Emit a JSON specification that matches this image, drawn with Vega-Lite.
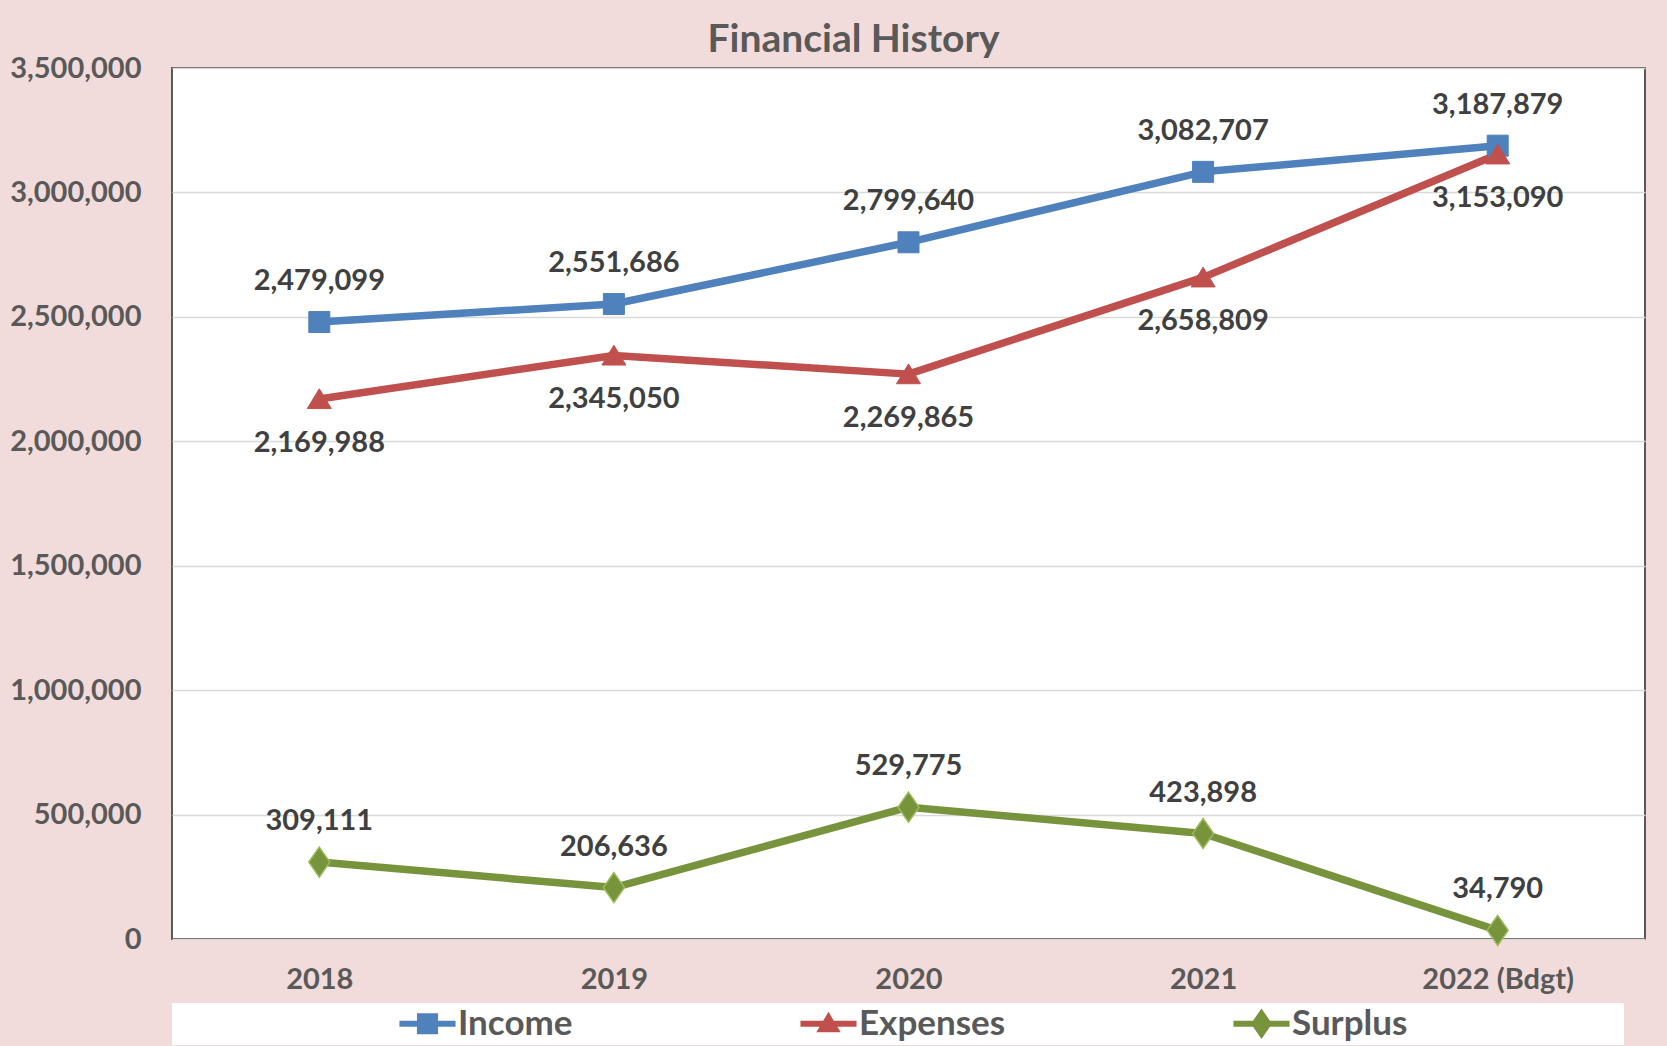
{
  "$schema": "https://vega.github.io/schema/vega-lite/v6.json",
  "autosize": {"type": "none"},
  "width": 1473,
  "height": 871,
  "padding": {"top": 68, "left": 172, "right": 22, "bottom": 107},
  "background": "#F2DCDB",
  "title": {
    "text": "Financial History",
    "font": "Lato",
    "fontSize": 39,
    "fontWeight": "bold",
    "color": "#595959",
    "anchor": "middle",
    "dx": -55,
    "offset": -6
  },
  "config": {
    "view": {"fill": "white", "stroke": "#595959", "strokeWidth": 2},
    "axis": {
      "labelFont": "Lato",
      "labelFontSize": 29,
      "labelFontWeight": "bold",
      "labelColor": "#595959",
      "domain": false,
      "ticks": false,
      "title": null
    }
  },
  "data": {
    "values": [
      {"year": "2018", "series": "Income", "value": 2479099},
      {"year": "2019", "series": "Income", "value": 2551686},
      {"year": "2020", "series": "Income", "value": 2799640},
      {"year": "2021", "series": "Income", "value": 3082707},
      {"year": "2022 (Bdgt)", "series": "Income", "value": 3187879},
      {"year": "2018", "series": "Expenses", "value": 2169988},
      {"year": "2019", "series": "Expenses", "value": 2345050},
      {"year": "2020", "series": "Expenses", "value": 2269865},
      {"year": "2021", "series": "Expenses", "value": 2658809},
      {"year": "2022 (Bdgt)", "series": "Expenses", "value": 3153090},
      {"year": "2018", "series": "Surplus", "value": 309111},
      {"year": "2019", "series": "Surplus", "value": 206636},
      {"year": "2020", "series": "Surplus", "value": 529775},
      {"year": "2021", "series": "Surplus", "value": 423898},
      {"year": "2022 (Bdgt)", "series": "Surplus", "value": 34790}
    ]
  },
  "encoding": {
    "x": {
      "field": "year",
      "type": "ordinal",
      "sort": null,
      "scale": {"type": "point", "padding": 0.5},
      "axis": {"labelAngle": 0, "labelPadding": 26, "grid": false}
    },
    "y": {
      "field": "value",
      "type": "quantitative",
      "scale": {"domain": [0, 3500000], "nice": false, "zero": true},
      "axis": {
        "values": [0, 500000, 1000000, 1500000, 2000000, 2500000, 3000000, 3500000],
        "format": ",.0f",
        "labelPadding": 31,
        "labelFlush": false,
        "labelOverlap": false,
        "grid": true,
        "gridColor": "#D9D9D9",
        "gridWidth": 1.5
      }
    }
  },
  "layer": [
    {
      "mark": {"type": "line", "strokeWidth": 7.5, "strokeJoin": "round", "strokeCap": "round"},
      "encoding": {
        "color": {
          "field": "series",
          "type": "nominal",
          "scale": {"domain": ["Income", "Expenses", "Surplus"], "range": ["#4F81BD", "#C0504D", "#77933C"]},
          "legend": {
            "orient": "none",
            "legendX": 0,
            "legendY": 935,
            "direction": "horizontal",
            "columns": 3,
            "title": null,
            "fillColor": "white",
            "padding": 3,
            "symbolSize": 1156,
            "symbolType": "square",
            "symbolOffset": 235,
            "labelFont": "Lato",
            "labelFontSize": 35,
            "labelFontWeight": "bold",
            "labelColor": "#595959",
            "labelOffset": 13,
            "labelLimit": 1000,
            "columnPadding": 3,
            "labelExpr": "datum.label == 'Surplus' ? 'Surplus\u00a0\u00a0\u00a0\u00a0\u00a0\u00a0\u00a0\u00a0\u00a0\u00a0\u00a0\u00a0\u00a0\u00a0\u00a0\u00a0\u00a0\u00a0\u00a0\u00a0\u00a0\u00a0\u00a0\u00a0\u00a0\u200b' : datum.label",
            "encode": {
              "symbols": {
                "update": {
                  "shape": {"signal": "datum.value === 'Income' ? 'M-1.65,-0.18H1.65V0.18H-1.65Z M-0.62,-0.62H0.62V0.62H-0.62Z' : datum.value === 'Expenses' ? 'M-1.65,-0.18H1.65V0.18H-1.65Z M0,-0.7L0.72,0.5H-0.72Z' : 'M-1.65,-0.18H1.65V0.18H-1.65Z M0,-0.9L0.62,0L0,0.9L-0.62,0Z'"},
                  "fill": {"signal": "scale('color', datum.value)"},
                  "stroke": {"value": "transparent"},
                  "strokeWidth": {"value": 0},
                  "opacity": {"value": 1}
                }
              }
            }
          }
        }
      }
    },
    {
      "transform": [{"filter": "datum.series === 'Income'"}],
      "mark": {"type": "point", "filled": true, "opacity": 1, "shape": "M-1,-1H1V1H-1Z", "size": 441, "fill": "#4F81BD", "stroke": "#4F81BD", "strokeWidth": 1}
    },
    {
      "transform": [{"filter": "datum.series === 'Expenses'"}],
      "mark": {"type": "point", "filled": true, "opacity": 1, "shape": "M0,-0.85L1,0.8H-1Z", "size": 576, "fill": "#C0504D", "stroke": "#C0504D", "strokeWidth": 1}
    },
    {
      "transform": [{"filter": "datum.series === 'Surplus'"}],
      "mark": {"type": "point", "filled": true, "opacity": 1, "shape": "M0,-1L0.7,0L0,1L-0.7,0Z", "size": 900, "fill": "#77933C", "stroke": "#9BBB59", "strokeWidth": 1.5}
    },
    {
      "transform": [{"filter": "datum.series === 'Income'"}],
      "mark": {"type": "text", "font": "Lato", "fontSize": 29, "fontWeight": "bold", "color": "#404040", "baseline": "middle", "dy": -41},
      "encoding": {"text": {"field": "value", "type": "quantitative", "format": ","}}
    },
    {
      "transform": [{"filter": "datum.series === 'Expenses'"}],
      "mark": {"type": "text", "font": "Lato", "fontSize": 29, "fontWeight": "bold", "color": "#404040", "baseline": "middle", "dy": 44},
      "encoding": {"text": {"field": "value", "type": "quantitative", "format": ","}}
    },
    {
      "transform": [{"filter": "datum.series === 'Surplus'"}],
      "mark": {"type": "text", "font": "Lato", "fontSize": 29, "fontWeight": "bold", "color": "#404040", "baseline": "middle", "dy": -41},
      "encoding": {"text": {"field": "value", "type": "quantitative", "format": ","}}
    }
  ]
}
